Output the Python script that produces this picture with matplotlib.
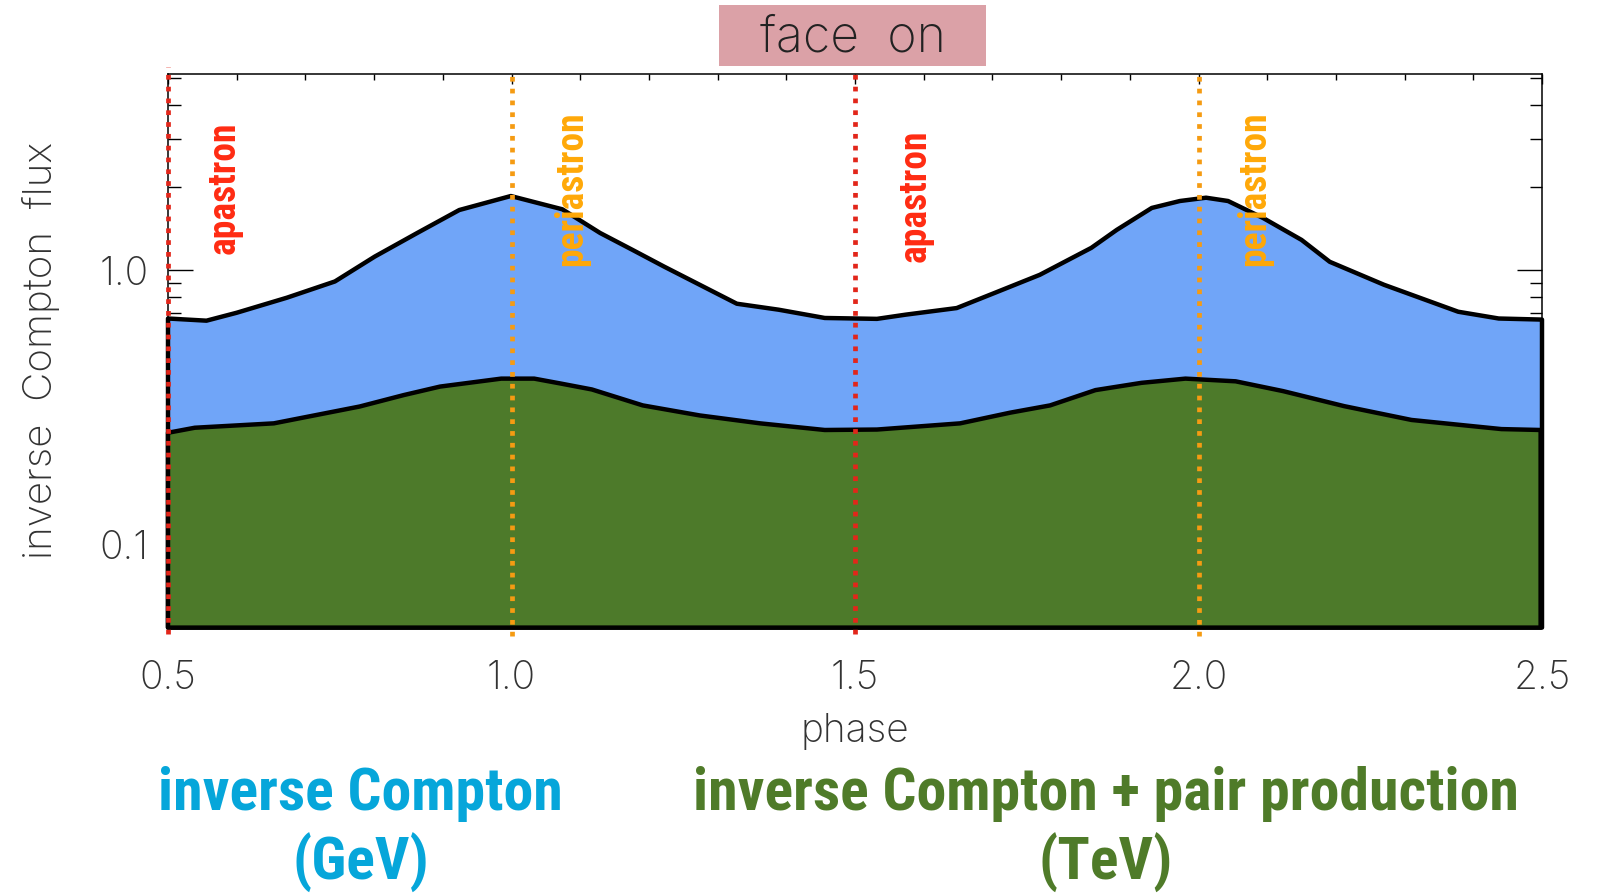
import matplotlib
matplotlib.use('Agg')
import matplotlib.pyplot as plt
import matplotlib.font_manager as fm
from matplotlib.font_manager import FontProperties
from matplotlib.patches import Rectangle
from matplotlib.ticker import FixedLocator, NullFormatter
import numpy as np

# orbital phase / flux, GeV inverse Compton (upper curve)
phase_ic = [0.500, 0.556, 0.600, 0.673, 0.743, 0.801, 0.863, 0.924, 0.999, 1.074,
            1.129, 1.176, 1.222, 1.328, 1.389, 1.456, 1.532, 1.574, 1.648, 1.704,
            1.769, 1.844, 1.881, 1.932, 1.973, 2.011, 2.043, 2.094, 2.150, 2.191,
            2.270, 2.378, 2.437, 2.500]
flux_ic = [0.667, 0.655, 0.700, 0.794, 0.910, 1.121, 1.367, 1.656, 1.862, 1.666,
           1.366, 1.186, 1.031, 0.755, 0.718, 0.670, 0.665, 0.689, 0.728, 0.828,
           0.962, 1.206, 1.402, 1.685, 1.786, 1.836, 1.786, 1.549, 1.289, 1.073,
           0.885, 0.706, 0.667, 0.661]

# TeV: inverse Compton after pair production (lower curve)
phase_pp = [0.500, 0.539, 0.654, 0.779, 0.843, 0.896, 0.985, 1.033, 1.071, 1.117,
            1.191, 1.274, 1.362, 1.456, 1.532, 1.653, 1.726, 1.784, 1.850, 1.917,
            1.981, 2.054, 2.123, 2.212, 2.310, 2.396, 2.441, 2.498]
flux_pp = [0.256, 0.267, 0.277, 0.319, 0.351, 0.377, 0.403, 0.403, 0.387, 0.368,
           0.322, 0.296, 0.277, 0.262, 0.263, 0.277, 0.303, 0.322, 0.366, 0.389,
           0.403, 0.394, 0.363, 0.320, 0.285, 0.271, 0.264, 0.262]

apastron_phase = [0.5, 1.5]
periastron_phase = [1.0, 2.0]

x_major = [0.5, 1.0, 1.5, 2.0, 2.5]
x_labels = ['0.5', '1.0', '1.5', '2.0', '2.5']
y_major = [0.1, 1.0]
y_labels = ['0.1', '1.0']
y_minor = [0.06, 0.07, 0.08, 0.09, 0.2, 0.3, 0.4, 0.5, 0.6, 0.7, 0.8, 0.9, 2, 3, 4, 5]

ymin, ymax = 0.05, 5.2

# --- fonts: a thin face for the axes, a condensed bold face for the annotations
def wnum(w):
    if isinstance(w, str):
        return fm.weight_dict.get(w, 400)
    return w

thin_cands = [f for f in fm.fontManager.ttflist
              if f.name in ('Roboto', 'Lato', 'Open Sans', 'Inter', 'Noto Sans')
              and f.style == 'normal' and wnum(f.weight) <= 300]
if thin_cands:
    thin_cands.sort(key=lambda f: (abs(wnum(f.weight) - 200), f.name != 'Roboto'))
    thin_file = thin_cands[0].fname
else:
    thin_file = None

cond_cands = []
for pref in ('Roboto Condensed', 'Liberation Sans Narrow', 'Open Sans Condensed'):
    cond_cands += [f for f in fm.fontManager.ttflist
                   if f.name == pref and f.style == 'normal' and wnum(f.weight) >= 600]
if not cond_cands:
    cond_cands = [f for f in fm.fontManager.ttflist
                  if f.style == 'normal' and wnum(f.weight) >= 600
                  and 'condensed' in str(f.stretch)]
cond_file = cond_cands[0].fname if cond_cands else None


def thin(size):
    if thin_file:
        return FontProperties(fname=thin_file, size=size)
    return FontProperties(family='DejaVu Sans', weight='light', size=size)


def cond(size):
    if cond_file:
        return FontProperties(fname=cond_file, size=size)
    return FontProperties(family='DejaVu Sans', weight='bold', size=size)


W, H = 1600, 894
fig = plt.figure(figsize=(W / 100, H / 100), dpi=100)
ax = fig.add_axes([168 / W, 1 - 627.6 / H, (1542 - 168) / W, (627.6 - 73.5) / H])
ax.set_yscale('log')
ax.set_xlim(0.5, 2.5)
ax.set_ylim(ymin, ymax)

blue = '#70a5f8'
green = '#4d7a2a'

# stacked filled bands, each outlined in black
ax.fill(np.r_[phase_ic[0], phase_ic, phase_ic[-1]], np.r_[ymin, flux_ic, ymin],
        facecolor=blue, edgecolor='black', lw=3.2, joinstyle='round',
        clip_on=False, zorder=2)
ax.fill(np.r_[phase_pp[0], phase_pp, phase_pp[-1]], np.r_[ymin, flux_pp, ymin],
        facecolor=green, edgecolor='black', lw=3.2, joinstyle='round',
        clip_on=False, zorder=2.1)

for p in apastron_phase:
    ax.axvline(p, ymin=-0.012, ymax=1.012 if p == 0.5 else 1.0, color='#e2261a',
               lw=3.4, ls=(0, (1, 1.5)), clip_on=False, zorder=3)
for p in periastron_phase:
    ax.axvline(p, ymin=-0.015, ymax=1.0, color='#f59b12',
               lw=3.4, ls=(0, (1, 1.5)), clip_on=False, zorder=3)

ax.text(0.582, 1.99, 'apastron', rotation=90, ha='center', va='center',
        color='#ff2b12', fontproperties=cond(27), zorder=4)
ax.text(1.587, 1.86, 'apastron', rotation=90, ha='center', va='center',
        color='#ff2b12', fontproperties=cond(27), zorder=4)
ax.text(1.087, 1.98, 'periastron', rotation=90, ha='center', va='center',
        color='#ffa808', fontproperties=cond(27), zorder=4)
ax.text(2.082, 1.98, 'periastron', rotation=90, ha='center', va='center',
        color='#ffa808', fontproperties=cond(27), zorder=4)

# axes styling
for s in ax.spines.values():
    s.set_linewidth(1.1)
ax.xaxis.set_minor_locator(FixedLocator(np.arange(0.6, 2.45, 0.1)))
ax.set_xticks(x_major)
ax.set_xticklabels(x_labels, fontproperties=thin(28))
ax.set_yticks(y_major)
ax.set_yticklabels(y_labels, fontproperties=thin(28))
ax.yaxis.set_minor_locator(FixedLocator(y_minor))
ax.yaxis.set_minor_formatter(NullFormatter())
ax.tick_params(axis='x', which='major', direction='in', length=7, width=1,
               top=True, pad=23, colors='black', labelcolor='#333333')
ax.tick_params(axis='x', which='minor', direction='in', length=4, width=1, top=True)
ax.tick_params(axis='y', which='major', direction='in', length=18, width=1,
               right=True, pad=14, labelcolor='#333333')
ax.tick_params(axis='y', which='minor', direction='in', length=9, width=1, right=True)

ax.set_xlabel('phase', fontproperties=thin(28), color='#333333')
ax.xaxis.set_label_coords(0.5, -0.155)
ax.set_ylabel('inverse  Compton  flux', fontproperties=thin(29), color='#333333')
ax.yaxis.label.set_verticalalignment('center')
ax.yaxis.set_label_coords((41 - 168) / 1374, 0.5)

# title box
fig.patches.append(Rectangle((719 / W, 1 - 66 / H), (986 - 719) / W, 61 / H,
                             transform=fig.transFigure, facecolor='#dba1a7',
                             edgecolor='none', zorder=0))
fig.text(853 / W, 1 - 51 / H, 'face  on', ha='center', va='baseline',
         fontproperties=thin(36), color='#222222')

# band captions below the plot
fig.text(360 / W, 1 - 810 / H, 'inverse Compton', ha='center', va='baseline',
         color='#06a6da', fontproperties=cond(43))
fig.text(361 / W, 1 - 880 / H, '(GeV)', ha='center', va='baseline',
         color='#06a6da', fontproperties=cond(43))
fig.text(1106 / W, 1 - 810 / H, 'inverse Compton + pair production', ha='center',
         va='baseline', color='#4f7b29', fontproperties=cond(43))
fig.text(1106 / W, 1 - 880 / H, '(TeV)', ha='center', va='baseline',
         color='#4f7b29', fontproperties=cond(43))

fig.savefig('out.png', dpi=100, facecolor='white')
